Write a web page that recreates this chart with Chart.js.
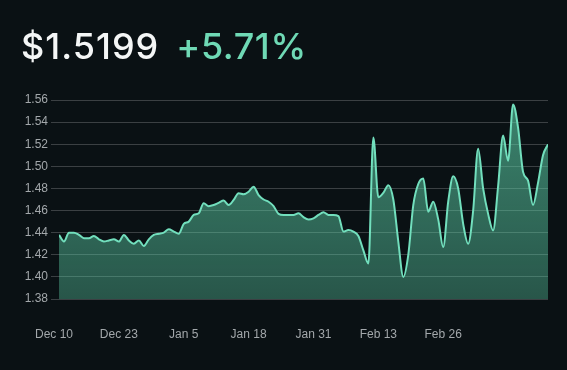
<!DOCTYPE html>
<html>
<head>
<meta charset="utf-8">
<script src="https://cdn.jsdelivr.net/npm/chart.js@4.4.1/dist/chart.umd.min.js"></script>
<style>
  html, body { margin: 0; padding: 0; background: #0a1114; }
  .wrap { position: relative; width: 567px; height: 370px; overflow: hidden; }
  .head { position: absolute; left: 21px; top: 28px; font-family: Inter, sans-serif; font-size: 36px; font-weight: 500; line-height: 1; white-space: nowrap; letter-spacing: 1px; }
  .price { color: #f4f6f6; }
  .change { color: #6fd9b5; margin-left: 17px; letter-spacing: 0.6px; }
  canvas { position: absolute; left: 0; top: 0; }
</style>
</head>
<body>
<div class="wrap">
  <canvas id="chart" width="567" height="370"></canvas>
  <div class="head"><span class="price">$1.5199</span><span class="change">+5.71%</span></div>
</div>
<script>
// daily closes, first point = Dec 11
const prices = [
  1.438, 1.432, 1.440, 1.440, 1.438, 1.435, 1.435, 1.437, 1.434, 1.432,
  1.433, 1.434, 1.432, 1.438, 1.433, 1.430, 1.433, 1.428, 1.434, 1.438,
  1.439, 1.440, 1.443, 1.441, 1.439, 1.448, 1.450, 1.456, 1.4575, 1.4666,
  1.464, 1.465, 1.467, 1.469, 1.465, 1.4696, 1.4756, 1.4747, 1.477, 1.4816,
  1.474, 1.470, 1.468, 1.464, 1.457, 1.456, 1.456, 1.456, 1.4575, 1.454,
  1.452, 1.453, 1.456, 1.4585, 1.456, 1.456, 1.455, 1.441, 1.4424, 1.441,
  1.437, 1.424, 1.412, 1.526, 1.472, 1.476, 1.483, 1.470, 1.432, 1.400,
  1.420, 1.465, 1.484, 1.489, 1.459, 1.468, 1.452, 1.427, 1.468, 1.491,
  1.480, 1.448, 1.430, 1.460, 1.516, 1.480, 1.457, 1.442, 1.482, 1.528,
  1.505, 1.556, 1.535, 1.495, 1.487, 1.465, 1.485, 1.510, 1.5199
];
const tickLabels = ['Dec 10', 'Dec 23', 'Jan 5', 'Jan 18', 'Jan 31', 'Feb 13', 'Feb 26'];
const tickIndex = [-1, 12, 25, 38, 51, 64, 77];
const yTicks = [1.38, 1.40, 1.42, 1.44, 1.46, 1.48, 1.50, 1.52, 1.54, 1.56];

const ctx = document.getElementById('chart').getContext('2d');

new Chart(ctx, {
  type: 'line',
  data: {
    datasets: [{
      data: prices.map((v, i) => ({ x: i, y: v })),
      borderColor: '#72dfbd',
      borderWidth: 2,
      pointRadius: 0,
      cubicInterpolationMode: 'monotone',
      fill: 'start',
      backgroundColor: (c) => {
        const area = c.chart.chartArea;
        if (!area) return 'rgba(94,210,170,0.5)';
        const g = c.chart.ctx.createLinearGradient(0, area.top, 0, area.bottom);
        g.addColorStop(0, 'rgba(94,210,170,0.6)');
        g.addColorStop(1, 'rgba(94,210,170,0.36)');
        return g;
      }
    }]
  },
  options: {
    responsive: false,
    animation: false,
    layout: { padding: { top: 100, right: 19, left: 0, bottom: 0 } },
    plugins: { legend: { display: false }, tooltip: { enabled: false } },
    scales: {
      x: {
        type: 'linear',
        min: 0,
        max: prices.length - 1,
        border: { display: false },
        grid: { display: false, drawTicks: false },
        afterBuildTicks: (s) => { s.ticks = tickIndex.map(v => ({ value: v })); },
        afterFit: (s) => { s.height = 71; },
        ticks: {
          autoSkip: false,
          maxRotation: 0,
          padding: 28,
          color: '#a3a8ab',
          font: { family: 'Liberation Sans, Arial, sans-serif', size: 12 },
          callback: (v, i) => tickLabels[i]
        }
      },
      y: {
        min: 1.38,
        max: 1.56,
        border: { display: false },
        grid: { color: 'rgba(255,255,255,0.2)', lineWidth: 1, tickLength: 8 },
        afterBuildTicks: (s) => { s.ticks = yTicks.map(v => ({ value: v })); },
        afterFit: (s) => { s.width = 59; },
        ticks: {
          padding: 3,
          color: '#a3a8ab',
          font: { family: 'Liberation Sans, Arial, sans-serif', size: 12 },
          callback: (v) => v.toFixed(2)
        }
      }
    }
  }
});
</script>
</body>
</html>
